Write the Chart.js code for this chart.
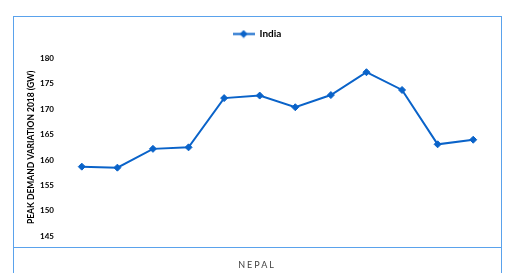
<!DOCTYPE html>
<html>
<head>
<meta charset="utf-8">
<script src="https://cdn.jsdelivr.net/npm/chart.js@4"></script>
<style>
  html, body { margin: 0; padding: 0; background: #fff; }
  #wrap { position: relative; width: 520px; height: 273px; overflow: hidden; }
  #frame { position: absolute; left: 13px; top: 16px; width: 489px; height: 300px;
           border: 1px solid #5aa2ec; box-sizing: border-box; }
  #sep { position: absolute; left: 13px; top: 247px; width: 489px; height: 0;
         border-top: 1px solid #5aa2ec; }
  canvas { position: absolute; left: 0; top: 0; }
</style>
</head>
<body>
<div id="wrap">
  <div id="frame"></div>
  <div id="sep"></div>
  <canvas id="c" width="520" height="273"></canvas>
</div>
<script>
const categories = ["Jan","Feb","Mar","Apr","May","Jun","Jul","Aug","Sep","Oct","Nov","Dec"];
const seriesName = "India";
const indiaValues = [158.7, 158.5, 162.2, 162.5, 172.2, 172.7, 170.4, 172.8, 177.3, 173.8, 163.1, 164.0];
const yTicks = [145, 150, 155, 160, 165, 170, 175, 180];
const yTitle = "PEAK DEMAND VARIATION 2018 (GW)";
const bottomTitle = "NEPAL";

const lineColor = "#0a63c9";

// legend icon: line with diamond marker
const icon = document.createElement("canvas");
icon.width = 22; icon.height = 9;
(function () {
  const g = icon.getContext("2d");
  g.strokeStyle = lineColor; g.lineWidth = 2;
  g.beginPath(); g.moveTo(0, 4.5); g.lineTo(22, 4.5); g.stroke();
  g.fillStyle = lineColor;
  g.beginPath(); g.moveTo(11, 0.5); g.lineTo(15, 4.5); g.lineTo(11, 8.5); g.lineTo(7, 4.5); g.closePath(); g.fill();
})();

// extra room below the legend, and letter-spaced bottom title
const tweaks = {
  id: "tweaks",
  beforeInit(chart) {
    const legend = chart.legend;
    const fit = legend.fit;
    legend.fit = function () { fit.call(this); this.height += 9.5; };
  },
  beforeDraw(chart) {
    const tb = chart.titleBlock;
    if (tb && !tb._spaced) {
      const d = tb.draw;
      tb.draw = function () {
        const ctx = this.ctx;
        ctx.save();
        ctx.letterSpacing = "2px";
        d.apply(this, arguments);
        ctx.restore();
      };
      tb._spaced = true;
    }
  }
};

new Chart(document.getElementById("c"), {
  type: "line",
  data: {
    labels: categories,
    datasets: [{
      label: seriesName,
      data: indiaValues,
      borderColor: lineColor,
      backgroundColor: lineColor,
      borderWidth: 2,
      pointStyle: "rectRot",
      pointRadius: 3.5,
      pointBorderWidth: 1,
      tension: 0
    }]
  },
  plugins: [tweaks],
  options: {
    responsive: false,
    animation: false,
    devicePixelRatio: 1,
    layout: { padding: { top: 15, left: 0, right: 6, bottom: 0 } },
    plugins: {
      legend: {
        position: "top",
        labels: {
          usePointStyle: true,
          pointStyleWidth: 22,
          padding: 14,
          color: "#000",
          font: { family: "Lato", size: 10, weight: "bold" },
          generateLabels: (chart) => chart.data.datasets.map((ds, i) => ({
            text: ds.label, pointStyle: icon, fillStyle: lineColor,
            strokeStyle: lineColor, lineWidth: 0, datasetIndex: i, hidden: false
          }))
        }
      },
      title: {
        display: true,
        position: "bottom",
        text: bottomTitle,
        color: "#404040",
        font: { family: "Lato", size: 9, weight: "normal" },
        padding: { top: 23.5, bottom: 2.5 }
      },
      tooltip: { enabled: false }
    },
    scales: {
      x: {
        display: false,
        offset: true
      },
      y: {
        min: 145, max: 180,
        afterBuildTicks: (s) => { s.ticks = yTicks.map(v => ({ value: v })); },
        afterFit: (s) => { s.width = 64; },
        grid: { display: false, drawTicks: false },
        border: { display: false },
        ticks: { color: "#000", padding: 10, font: { family: "Lato", size: 8, weight: "bold" } },
        title: {
          display: true, text: yTitle, color: "#000",
          font: { family: "Lato", size: 8.5, weight: "bold" },
          padding: { top: 26, bottom: 0 }
        }
      },
      yRight: {
        position: "right",
        display: true,
        grid: { display: false, drawTicks: false },
        border: { display: false },
        ticks: { display: false },
        afterFit: (s) => { s.width = 23; }
      }
    }
  }
});
</script>
</body>
</html>
